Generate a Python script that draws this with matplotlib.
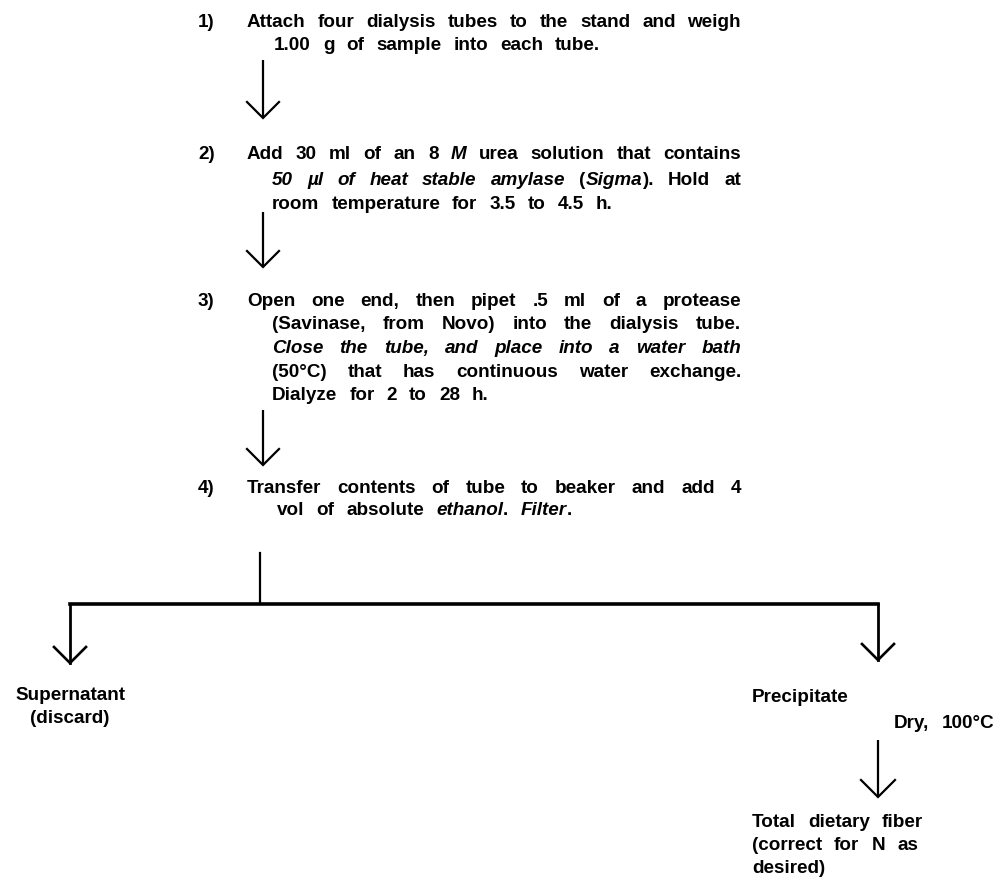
import matplotlib
matplotlib.use("Agg")
import matplotlib.pyplot as plt

# step numbers and their text lines; each line is a list of (text, italic) runs
numeros = ["1)", "2)", "3)", "4)"]
adimlar = [
    [[("Attach four dialysis tubes to the stand and weigh", False)],
     [("1.00 g of sample into each tube.", False)]],
    [[("Add 30 ml of an 8 ", False), ("M", True), (" urea solution that contains", False)],
     [("50 \u00b5l of heat stable amylase", True), (" (", False), ("Sigma", True), ("). Hold at", False)],
     [("room temperature for 3.5 to 4.5 h.", False)]],
    [[("Open one end, then pipet .5 ml of a protease", False)],
     [("(Savinase, from Novo) into the dialysis tube.", False)],
     [("Close the tube, and place into a water bath", True)],
     [("(50\u00b0C) that has continuous water exchange.", False)],
     [("Dialyze for 2 to 28 h.", False)]],
    [[("Transfer contents of tube to beaker and add 4", False)],
     [("vol of absolute ", False), ("ethanol", True), (". ", False), ("Filter", True), (".", False)]],
]
# baselines of each text line (pixels from top)
adim_satirlari = [[27, 50], [159, 185, 209], [306, 329, 353, 377, 400], [493, 515]]
girinti = [274, 272, 272, 277]
ok_araliklari = [(60, 118), (212, 267), (410, 465)]

sol_metin = ["Supernatant", "(discard)"]
sag_metin = ["Precipitate"]
kurutma = "Dry, 100\u00b0C"
son_metin = ["Total dietary fiber", "(correct for N as", "desired)"]

W, H = 1007, 884
fig = plt.figure(figsize=(W / 100, H / 100), dpi=100)
ax = fig.add_axes([0, 0, 1, 1])
ax.set_xlim(0, W)
ax.set_ylim(H, 0)
ax.axis("off")
renderer = fig.canvas.get_renderer()

yazi = dict(fontsize=13.6, fontweight="bold", family="Liberation Sans", va="baseline", ha="left")
SAG_KENAR = 741
BOSLUK = 12  # the original has very wide word spaces


def genislik(s, italik):
    # advance width of a string, measured between two bars
    st = "italic" if italik else "normal"
    t1 = ax.text(0, 0, "|" + s + "|", style=st, **yazi)
    t2 = ax.text(0, 0, "||", style=st, **yazi)
    w = t1.get_window_extent(renderer).width - t2.get_window_extent(renderer).width
    t1.remove()
    t2.remove()
    return w


def kelimeler(parcalar):
    words = [[]]
    for s, it in parcalar:
        for k, p in enumerate(s.split(" ")):
            if k > 0:
                words.append([])
            if p:
                words[-1].append((p, it))
    return [w for w in words if w]


def satir_yaz(x, y, parcalar, yasla=False, ortala=False):
    ws = kelimeler(parcalar)
    gen = [sum(genislik(p, it) for p, it in w) for w in ws]
    bosluk = BOSLUK
    if yasla and len(ws) > 1:
        bosluk = (SAG_KENAR - x - sum(gen)) / (len(ws) - 1)
    if ortala:
        x = x - (sum(gen) + bosluk * (len(ws) - 1)) / 2
    for w, g in zip(ws, gen):
        xx = x
        for p, it in w:
            ax.text(xx, y, p, style="italic" if it else "normal", **yazi)
            xx += genislik(p, it)
        x += g + bosluk


def ok(x, y0, y1, lw=1.6, kanat=16):
    ax.plot([x, x], [y0, y1], color="black", lw=lw, solid_capstyle="butt")
    ax.plot([x - kanat, x, x + kanat], [y1 - kanat, y1, y1 - kanat], color="black", lw=lw,
            solid_joinstyle="miter")


for i, (no, satirlar) in enumerate(zip(numeros, adimlar)):
    ys = adim_satirlari[i]
    ax.text(198, ys[0], no, **yazi)
    for j, parcalar in enumerate(satirlar):
        x = 247 if j == 0 else girinti[i]
        satir_yaz(x, ys[j], parcalar, yasla=(j < len(satirlar) - 1))

for y0, y1 in ok_araliklari:
    ok(263, y0, y1)

# branching after filtration
ax.plot([260, 260], [553, 604], color="black", lw=1.6)
ax.plot([70, 878], [604, 604], color="black", lw=2.6, solid_capstyle="projecting")
ax.plot([70, 70], [604, 663], color="black", lw=2.0)
ax.plot([54, 70, 86], [647, 663, 647], color="black", lw=1.9, solid_joinstyle="miter")
ax.plot([878, 878], [604, 660], color="black", lw=2.0)
ax.plot([862, 878, 894], [644, 660, 644], color="black", lw=1.9, solid_joinstyle="miter")

satir_yaz(70, 700, [(sol_metin[0], False)], ortala=True)
satir_yaz(70, 723, [(sol_metin[1], False)], ortala=True)
satir_yaz(752, 702, [(sag_metin[0], False)])
satir_yaz(894, 728, [(kurutma, False)])
ok(878, 740, 797, lw=1.6, kanat=17)
for j, s in enumerate(son_metin):
    satir_yaz(752, 827 + j * 23, [(s, False)])

fig.savefig("out.png", dpi=100)
